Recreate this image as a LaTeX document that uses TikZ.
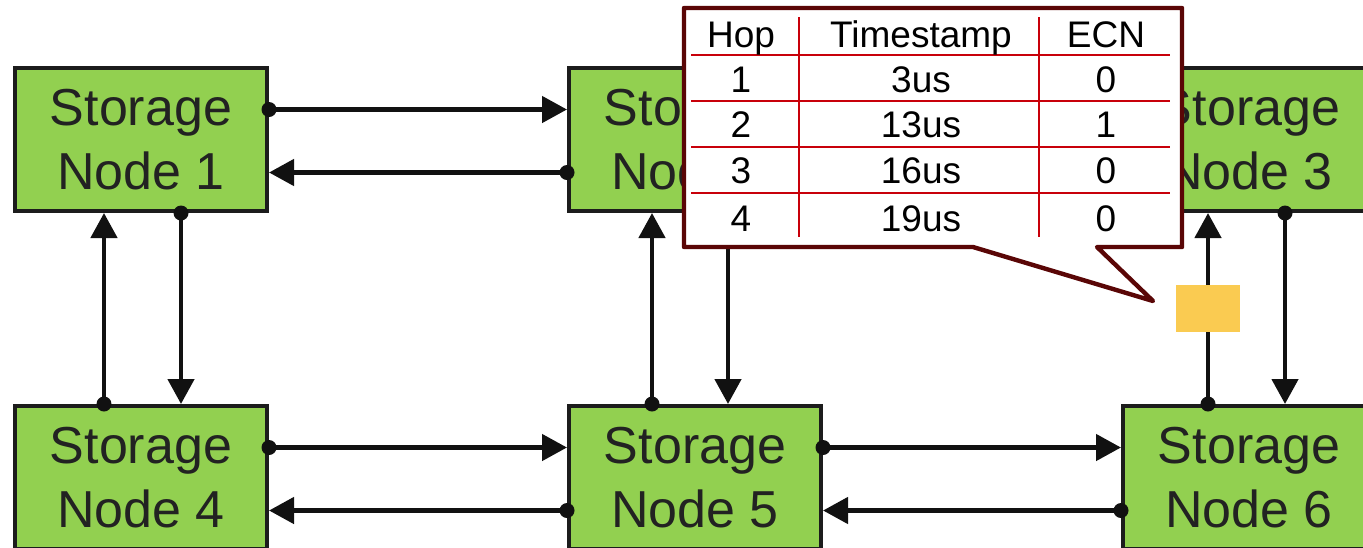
\documentclass[tikz,border=0pt]{standalone}
\usepackage{fontspec}
\setmainfont{Liberation Sans}
\usetikzlibrary{arrows.meta,calc}
\definecolor{boxgreen}{HTML}{92D050}
\definecolor{edge}{HTML}{1C1C1C}
\definecolor{ink}{HTML}{222222}
\definecolor{wire}{HTML}{111111}
\definecolor{pktyellow}{HTML}{FACB51}
\definecolor{callrim}{HTML}{5A0606}
\definecolor{gridred}{HTML}{C8000A}
\begin{document}
\begin{tikzpicture}[x=0.5pt,y=-0.5pt,
  snode/.style={draw=edge, fill=boxgreen, line width=2pt, minimum width=126pt,
    minimum height=71.5pt, inner sep=0pt, align=center, text=ink,
    font=\fontsize{26}{32}\selectfont},
  link/.style={draw=wire, line width=2.3pt, -{Triangle[length=12.5pt,width=13pt]}},
  jdot/.style={fill=wire},
  pkt/.style={fill=pktyellow, draw=none, minimum width=32pt, minimum height=23.5pt, inner sep=0pt},
  cell/.style={anchor=base, inner sep=0pt, font=\fontsize{18.5}{21}\selectfont, text=black},
  rule/.style={draw=gridred, line width=0.9pt}]
\useasboundingbox (0,0) rectangle (1363,547);
\begin{scope}
\clip (0,0) rectangle (1363,547);

% storage nodes
\node[snode] (n1) at (141,139.5) {Storage\\Node 1};
\node[snode] (n2) at (695,139.5) {Storage\\Node 2};
\node[snode] (n3) at (1249,139.5) {Storage\\Node 3};
\node[snode] (n4) at (141,477.5) {Storage\\Node 4};
\node[snode] (n5) at (695,477.5) {Storage\\Node 5};
\node[snode] (n6) at (1249,477.5) {Storage\\Node 6};

% horizontal links (upper: left to right, lower: right to left)
\foreach \l/\r in {n1/n2, n2/n3, n4/n5, n5/n6} {
  \draw[link] ($(\l.east)+(0,-30)$) coordinate (s) -- ($(\r.west)+(0,-30)$);
  \fill[jdot] (s) circle[radius=3.75pt];
  \draw[link] ($(\r.west)+(0,33)$) coordinate (s) -- ($(\l.east)+(0,33)$);
  \fill[jdot] (s) circle[radius=3.75pt];
}

% vertical links (left: upwards, right: downwards)
\foreach \t/\b/\u/\d in {n1/n4/-37/40, n2/n5/-43/33, n3/n6/-41/36} {
  \draw[link] ($(\b.north)+(\u,0)$) coordinate (s) -- ($(\t.south)+(\u,0)$);
  \fill[jdot] (s) circle[radius=3.75pt];
  \draw[link] ($(\t.south)+(\d,0)$) coordinate (s) -- ($(\b.north)+(\d,0)$);
  \fill[jdot] (s) circle[radius=3.75pt];
}

% packet on the link from node 6 to node 3
\node[pkt] (pk) at (1208,308.5) {};

% callout with the per-hop record
\filldraw[fill=white, draw=callrim, line width=2.2pt, line join=round]
  (684,8) -- (1182,8) -- (1182,247) -- (1097,247) -- (1153,301)
  -- (973,247) -- (684,247) -- cycle;

\foreach \y in {55,101,147,193} \draw[rule] (691,\y) -- (1170,\y);
\foreach \x in {799,1039} \draw[rule] (\x,17) -- (\x,237);

\node[cell] (hhop) at (741,47) {Hop};
\node[cell] (hts) at (921,47) {Timestamp};
\node[cell] (hecn) at (1106,47) {ECN};
\foreach \i/\ts/\e/\y in {1/3us/0/92, 2/13us/1/137, 3/16us/0/183, 4/19us/0/231} {
  \node[cell] (hop\i) at (741,\y) {\i};
  \node[cell] (ts\i) at (921,\y) {\ts};
  \node[cell] (ecn\i) at (1106,\y) {\e};
}
\end{scope}
\end{tikzpicture}
\end{document}
